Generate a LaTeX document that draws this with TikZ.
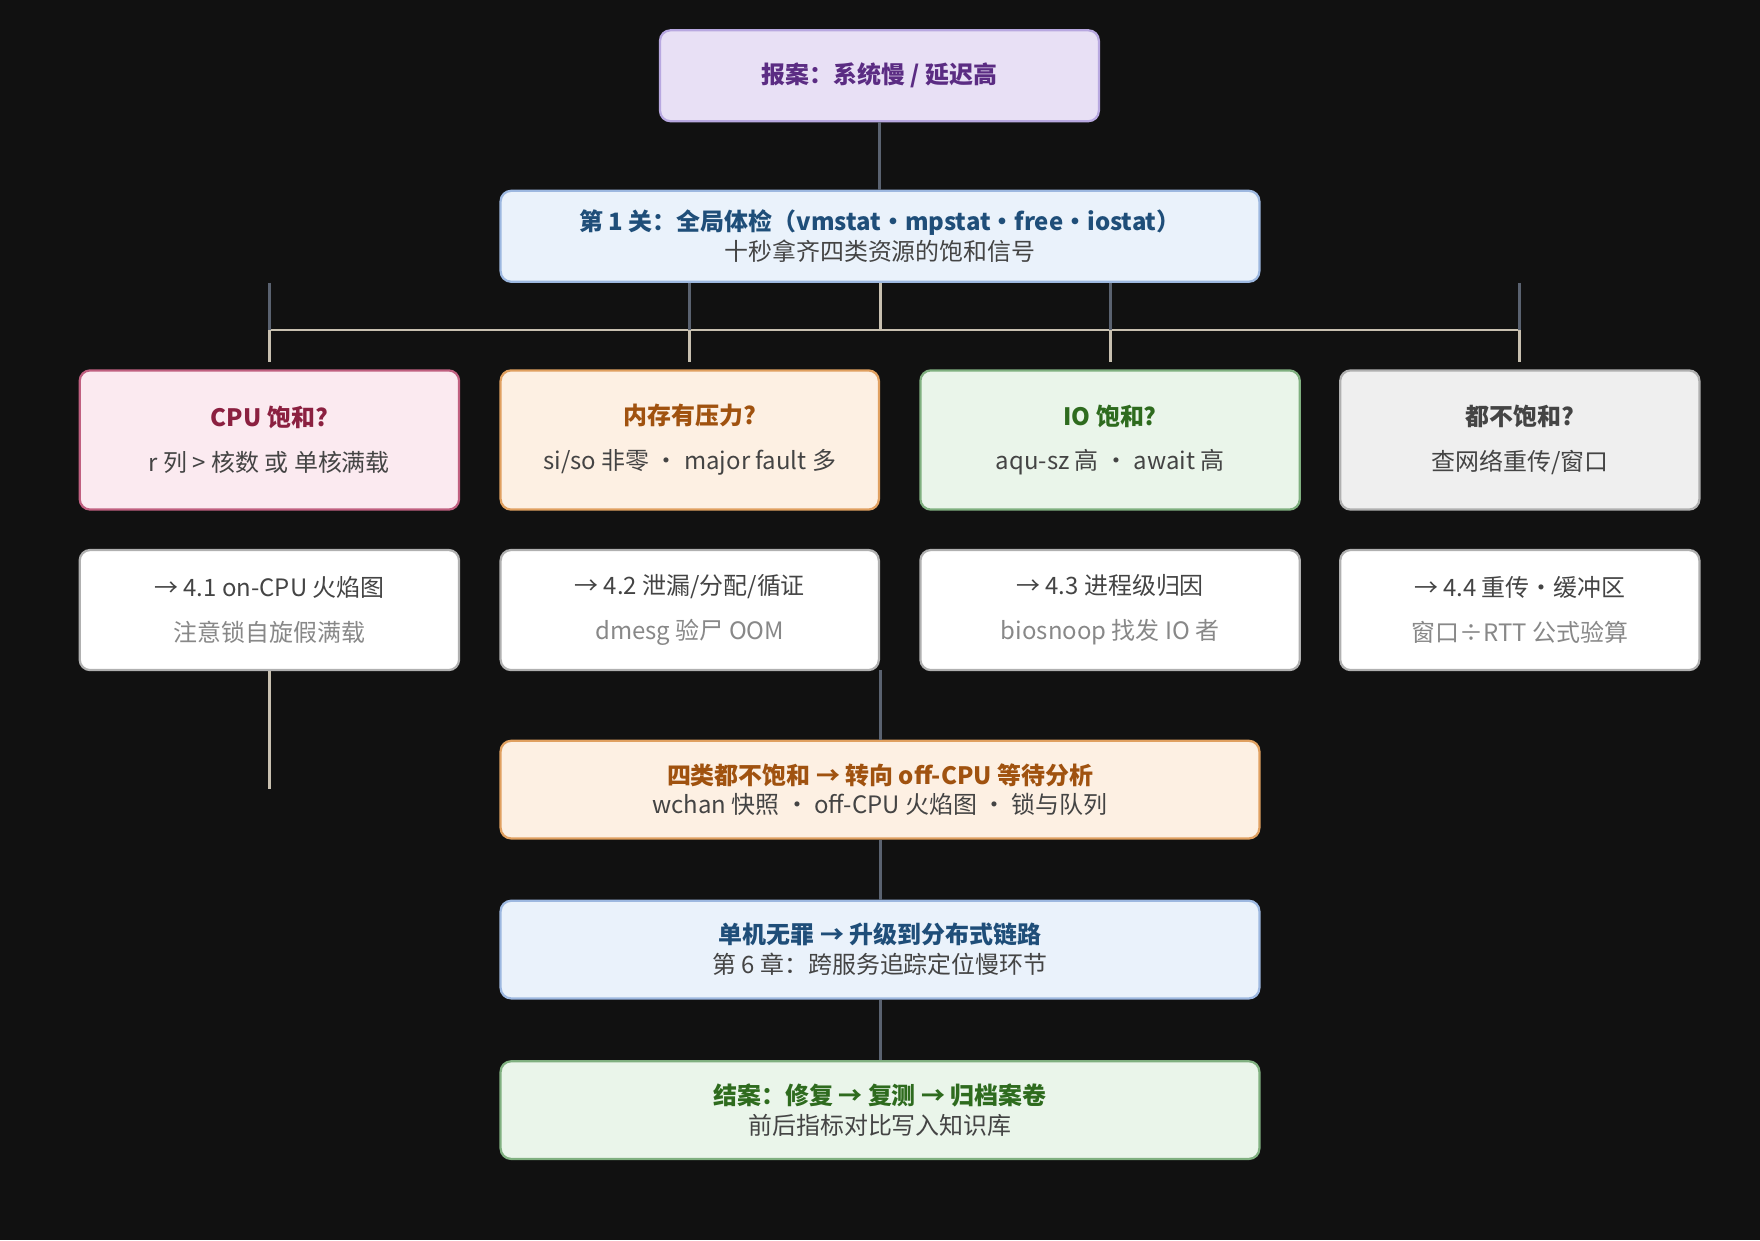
\documentclass[tikz,border=0pt]{standalone}
\usepackage{fontspec}
\setmainfont{Noto Sans CJK SC}
\newfontfamily\cjkb{Noto Sans CJK SC Bold}
\begin{document}
\begin{tikzpicture}[x=0.75pt,y=-0.75pt,
  box/.style={draw, line width=1.5pt, rounded corners=7pt, align=center, inner sep=0pt, font=\fontsize{16}{22}\selectfont},
  ttl/.style={font=\fontsize{16}{22}\selectfont\bfseries},
  dk/.style={draw=darkline, line width=2pt},
  lt/.style={draw=lightline, line width=2pt}]
\definecolor{bg}{HTML}{111111}
\definecolor{darkline}{HTML}{5A6270}
\definecolor{lightline}{HTML}{C8C0B0}
\definecolor{pF}{HTML}{E8E0F5}\definecolor{pD}{HTML}{B8A8E0}\definecolor{pT}{HTML}{5B2C83}
\definecolor{bF}{HTML}{EAF2FB}\definecolor{bD}{HTML}{9DB8E0}\definecolor{bT}{HTML}{1F4E79}
\definecolor{rF}{HTML}{FBEAF0}\definecolor{rD}{HTML}{C06080}\definecolor{rT}{HTML}{8B2040}
\definecolor{oF}{HTML}{FDF0E3}\definecolor{oD}{HTML}{E0A060}\definecolor{oT}{HTML}{A0520F}
\definecolor{gF}{HTML}{EAF5EA}\definecolor{gD}{HTML}{80B080}\definecolor{gT}{HTML}{2E6B1E}
\definecolor{nF}{HTML}{EFEFEF}\definecolor{nD}{HTML}{B0B0B0}\definecolor{nT}{HTML}{444444}
\definecolor{sub}{HTML}{444444}\definecolor{gry}{HTML}{888888}
\fill[bg] (0,0) rectangle (1568,1105);
\useasboundingbox (0,0) rectangle (1568,1105);
% top
\node[box, fill=pF, draw=pD, text=pT, minimum width=391*0.75pt, minimum height=81*0.75pt] (top) at (783.5,67.5) {\bfseries 报案：系统慢 / 延迟高};
\node[box, fill=bF, draw=bD, minimum width=676*0.75pt, minimum height=81*0.75pt] (s1) at (784,210.5) {{\color{bT}\bfseries 第 1 关：全局体检（vmstat•mpstat•free•iostat）}\\[-2pt]{\color{sub}十秒拿齐四类资源的饱和信号}};
% row 1
\node[box, fill=rF, draw=rD, minimum width=338*0.75pt, minimum height=124*0.75pt] (cpu) at (240,392) {{\color{rT}\bfseries CPU 饱和?}\\[8pt]{\color{sub}r 列 > 核数 或 单核满载}};
\node[box, fill=oF, draw=oD, minimum width=337*0.75pt, minimum height=124*0.75pt] (mem) at (614.5,392) {{\color{oT}\bfseries 内存有压力?}\\[8pt]{\color{sub}si/so 非零 · major fault 多}};
\node[box, fill=gF, draw=gD, minimum width=338*0.75pt, minimum height=124*0.75pt] (io) at (989,392) {{\color{gT}\bfseries IO 饱和?}\\[8pt]{\color{sub}aqu-sz 高 · await 高}};
\node[box, fill=nF, draw=nD, minimum width=320*0.75pt, minimum height=124*0.75pt] (none) at (1354,392) {{\color{nT}\bfseries 都不饱和?}\\[8pt]{\color{sub}查网络重传/窗口}};
% row 2
\node[box, fill=white, draw=nD, minimum width=338*0.75pt, minimum height=107*0.75pt] (c2) at (240,543.5) {{\color{sub}→ 4.1 on-CPU 火焰图}\\[8pt]{\color{gry}注意锁自旋假满载}};
\node[box, fill=white, draw=nD, minimum width=337*0.75pt, minimum height=107*0.75pt] (m2) at (614.5,543.5) {{\color{sub}→ 4.2 泄漏/分配/循证}\\[8pt]{\color{gry}dmesg 验尸 OOM}};
\node[box, fill=white, draw=nD, minimum width=338*0.75pt, minimum height=107*0.75pt] (i2) at (989,543.5) {{\color{sub}→ 4.3 进程级归因}\\[8pt]{\color{gry}biosnoop 找发 IO 者}};
\node[box, fill=white, draw=nD, minimum width=320*0.75pt, minimum height=107*0.75pt] (n2) at (1354,543.5) {{\color{sub}→ 4.4 重传·缓冲区}\\[8pt]{\color{gry}窗口÷RTT 公式验算}};
% lower chain
\node[box, fill=oF, draw=oD, minimum width=676*0.75pt, minimum height=87*0.75pt] (off) at (784,703.5) {{\color{oT}\bfseries 四类都不饱和 → 转向 off-CPU 等待分析}\\[-2pt]{\color{sub}wchan 快照 · off-CPU 火焰图 · 锁与队列}};
\node[box, fill=bF, draw=bD, minimum width=676*0.75pt, minimum height=87*0.75pt] (dist) at (784,846) {{\color{bT}\bfseries 单机无罪 → 升级到分布式链路}\\[-2pt]{\color{sub}第 6 章：跨服务追踪定位慢环节}};
\node[box, fill=gF, draw=gD, minimum width=676*0.75pt, minimum height=87*0.75pt] (end) at (784,989) {{\color{gT}\bfseries 结案：修复 → 复测 → 归档案卷}\\[-2pt]{\color{sub}前后指标对比写入知识库}};
% connectors
\coordinate (bL) at (240,294); \coordinate (bR) at (1353,294);
\draw[dk] (top.south) -- (top.south |- s1.north);
\draw[lt] (bL) -- (bR);
\draw[lt] (s1.south) -- (s1.south |- bL);
\foreach \n in {cpu,mem,io,none}{
  \draw[dk] (\n.north |- s1.south) -- (\n.north |- bL);
  \draw[lt] (\n.north |- bL) -- ([yshift=5pt]\n.north);
}
\coordinate (cEnd) at (240,703);
\draw[lt] (c2.south) -- (cEnd);
\draw[dk] (784,597) -- (off.north);
\draw[dk] (off.south) -- (dist.north);
\draw[dk] (dist.south) -- (end.north);
\end{tikzpicture}
\end{document}
